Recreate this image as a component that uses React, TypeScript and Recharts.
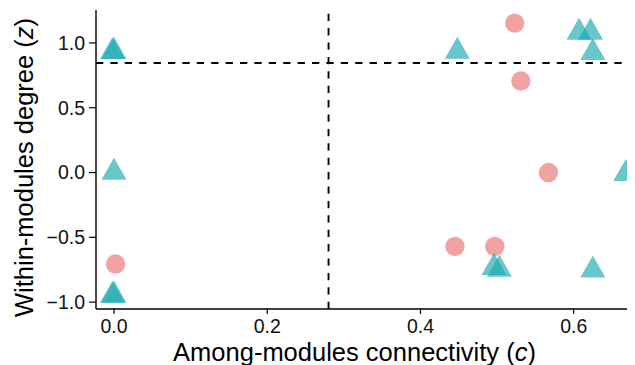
import { ScatterChart, Scatter, XAxis, YAxis, ReferenceLine, Label } from 'recharts';

// connectivity (c) and within-module degree (z)
const circleC = [0.002, 0.523, 0.531, 0.567, 0.445, 0.497];
const circleZ = [-0.706, 1.153, 0.706, 0.0, -0.57, -0.57];

const triangleC = [-0.002, 0.0, 0.0, -0.002, 0.0, 0.448, 0.607, 0.622, 0.625, 0.668, 0.496, 0.503, 0.625];
const triangleZ = [0.96, 0.96, 0.03, -0.92, -0.92, 0.963, 1.11, 1.11, 0.953, 0.02, -0.706, -0.72, -0.725];

const xTicks = [0, 0.2, 0.4, 0.6];
const yTicks = [-1, -0.5, 0, 0.5, 1];

const cThreshold = 0.28;
const zThreshold = 0.845;

const circles = circleC.map((c, i) => ({ c, z: circleZ[i] }));
const triangles = triangleC.map((c, i) => ({ c, z: triangleZ[i] }));

const FONT = '"Liberation Sans", Arial, Helvetica, sans-serif';

const fmt = (v: number) => (v < 0 ? '\u2212' + Math.abs(v).toFixed(1) : v.toFixed(1));

const Dot = (props: any) => {
  const { cx, cy } = props;
  return <circle cx={cx} cy={cy} r={9.7} fill="#E8726E" fillOpacity={0.65} />;
};

const Tri = (props: any) => {
  const { cx, cy } = props;
  const w = 25;
  const h = 22;
  return (
    <polygon
      points={`${cx},${cy - h / 2} ${cx - w / 2},${cy + h / 2} ${cx + w / 2},${cy + h / 2}`}
      fill="#18A9B0"
      fillOpacity={0.65}
    />
  );
};

const XTitle = (props: any) => {
  const { x, y, width } = props.viewBox;
  return (
    <text x={x + width / 2 - 11} y={y + 52} textAnchor="middle" fontSize={25.5} fontFamily={FONT} fill="#000">
      Among-modules connectivity (<tspan fontStyle="italic">c</tspan>)
    </text>
  );
};

const YTitle = () => {
  const x = 25;
  const y = 159.5;
  return (
    <text
      x={x}
      y={y}
      transform={`rotate(-90, ${x}, ${y})`}
      textAnchor="middle"
      fontSize={25.5}
      fontFamily={FONT}
      fill="#000"
    >
      Within-modules degree (<tspan fontStyle="italic">z</tspan>)
    </text>
  );
};

export default function App() {
  return (
    <ScatterChart width={627} height={357} margin={{ top: 2, right: 0, bottom: 0, left: 0 }}>
      <XAxis
        type="number"
        dataKey="c"
        domain={[-0.0235, 0.68]}
        ticks={xTicks}
        tickFormatter={fmt}
        height={56}
        tickSize={5}
        tickMargin={5}
        axisLine={{ stroke: '#000', strokeWidth: 1.4 }}
        tickLine={{ stroke: '#000', strokeWidth: 1.2 }}
        tick={{ fill: '#111', fontSize: 19.5, fontFamily: FONT }}
      >
        <Label content={XTitle} />
      </XAxis>
      <YAxis
        type="number"
        dataKey="z"
        domain={[-1.053, 1.254]}
        ticks={yTicks}
        tickFormatter={fmt}
        width={88}
        tickSize={7}
        tickMargin={4}
        axisLine={{ stroke: '#000', strokeWidth: 1.4 }}
        tickLine={{ stroke: '#000', strokeWidth: 1.2 }}
        tick={{ fill: '#111', fontSize: 19.5, fontFamily: FONT }}
      >
        <Label content={YTitle} />
      </YAxis>
      <ReferenceLine x={cThreshold} stroke="#000" strokeWidth={1.9} strokeDasharray="7.3 7.1" />
      <ReferenceLine y={zThreshold} stroke="#000" strokeWidth={1.9} strokeDasharray="7.3 7.1" />
      <Scatter data={circles} shape={Dot} isAnimationActive={false} />
      <Scatter data={triangles} shape={Tri} isAnimationActive={false} />
    </ScatterChart>
  );
}
